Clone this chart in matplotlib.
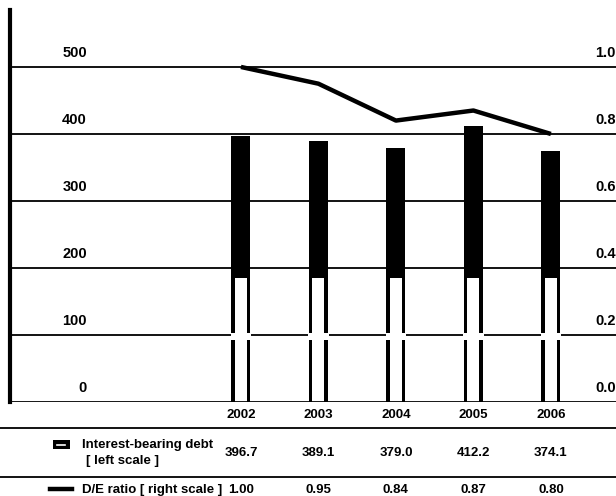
import matplotlib
matplotlib.use('Agg')
import matplotlib.pyplot as plt
import matplotlib.transforms as mtransforms
from matplotlib.patches import Rectangle
from matplotlib.lines import Line2D

years = ['2002', '2003', '2004', '2005', '2006']
debt = [396.7, 389.1, 379.0, 412.2, 374.1]
de_ratio = [1.00, 0.95, 0.84, 0.87, 0.80]
left_ticks = [0, 100, 200, 300, 400, 500]
right_ticks = [0.0, 0.2, 0.4, 0.6, 0.8, 1.0]

plt.rcParams['font.family'] = ['Liberation Sans Narrow', 'Liberation Sans', 'DejaVu Sans']
plt.rcParams['font.weight'] = 'bold'

W, H = 616, 496
fig = plt.figure(figsize=(W / 100, H / 100), dpi=100)
fig.patch.set_facecolor('white')

# plot area in pixels
x0, y_top, y_bot = 10, 10, 402
ax = fig.add_axes([x0 / W, (H - y_bot) / H, 1 - x0 / W, (y_bot - y_top) / H])
ax2 = ax.twinx()
ax.set_zorder(1)
ax2.set_zorder(2)
ax.patch.set_visible(False)
ax2.patch.set_visible(False)

xs = list(range(len(years)))
ax.set_xlim(-2.98, 4.84)
ax.set_ylim(0, 585)
ax2.set_ylim(0, 585 / 500)

for a in (ax, ax2):
    a.set_xticks([])
    a.set_yticks([])
    for s in a.spines.values():
        s.set_visible(False)

# gridlines
for t in left_ticks[1:]:
    ax.axhline(t, color='black', lw=1.3, zorder=1)
ax.axhline(0, color='black', lw=2.0, zorder=4)
ax.plot([-2.98, -2.98], [0, 585], color='black', lw=3.0, clip_on=False, zorder=4)

# bars: black top, hollow lower part from the printed gradient
bw = 0.245
inset = 0.045
fade = 185
for x, v in zip(xs, debt):
    ax.add_patch(Rectangle((x - bw / 2, 0), bw, v, facecolor='black', edgecolor='none', zorder=2))
    ax.add_patch(Rectangle((x - bw / 2 + inset, 0), bw - 2 * inset, fade,
                           facecolor='white', edgecolor='none', zorder=3))
    ax.add_patch(Rectangle((x - bw / 2 - 0.01, 93), bw + 0.02, 10,
                           facecolor='white', edgecolor='none', zorder=3))

# D/E ratio line
ax2.plot(xs, de_ratio, color='black', lw=3.2, solid_capstyle='butt', zorder=5)

# axis labels inside the plot area
fs = 9.5
fs_axis = 10.5
for t in left_ticks:
    ax.annotate(str(t), xy=(87 / W, t), xycoords=('figure fraction', 'data'),
                xytext=(0, 5), textcoords='offset points', ha='right', va='bottom',
                fontsize=fs_axis, zorder=6)
for t in right_ticks:
    ax2.annotate(f'{t:.1f}', xy=(595 / W, t), xycoords=('figure fraction', 'data'),
                 xytext=(0, 5), textcoords='offset points', ha='left', va='bottom',
                 fontsize=fs_axis, zorder=6)

# data table below the chart
tr = mtransforms.blended_transform_factory(ax.transData, fig.transFigure)


def fy(py):
    return 1 - py / H


for x, yr, v, r in zip(xs, years, debt, de_ratio):
    fig.text(x, fy(415), yr, transform=tr, ha='center', va='center', fontsize=fs)
    fig.text(x, fy(453), f'{v:.1f}', transform=tr, ha='center', va='center', fontsize=fs)
    fig.text(x, fy(490), f'{r:.2f}', transform=tr, ha='center', va='center', fontsize=fs)

for py in (428, 477):
    fig.add_artist(Line2D([0, 1], [fy(py), fy(py)], color='black', lw=1.3,
                          transform=fig.transFigure))

fig.text(82 / W, fy(445), 'Interest-bearing debt', ha='left', va='center', fontsize=fs)
fig.text(86 / W, fy(461), '[ left scale ]', ha='left', va='center', fontsize=fs)
fig.text(82 / W, fy(490), 'D/E ratio [ right scale ]', ha='left', va='center', fontsize=fs)

# legend keys
fig.add_artist(Rectangle((53 / W, fy(449)), 17 / W, 9 / H, facecolor='black',
                         edgecolor='none', transform=fig.transFigure))
fig.add_artist(Line2D([57 / W, 65 / W], [fy(445), fy(445)], color='white', lw=1.2,
                      transform=fig.transFigure))
fig.add_artist(Line2D([50 / W, 72 / W], [fy(489), fy(489)], color='black', lw=3.2,
                      transform=fig.transFigure))

fig.savefig('out.png', dpi=100, facecolor='white')
